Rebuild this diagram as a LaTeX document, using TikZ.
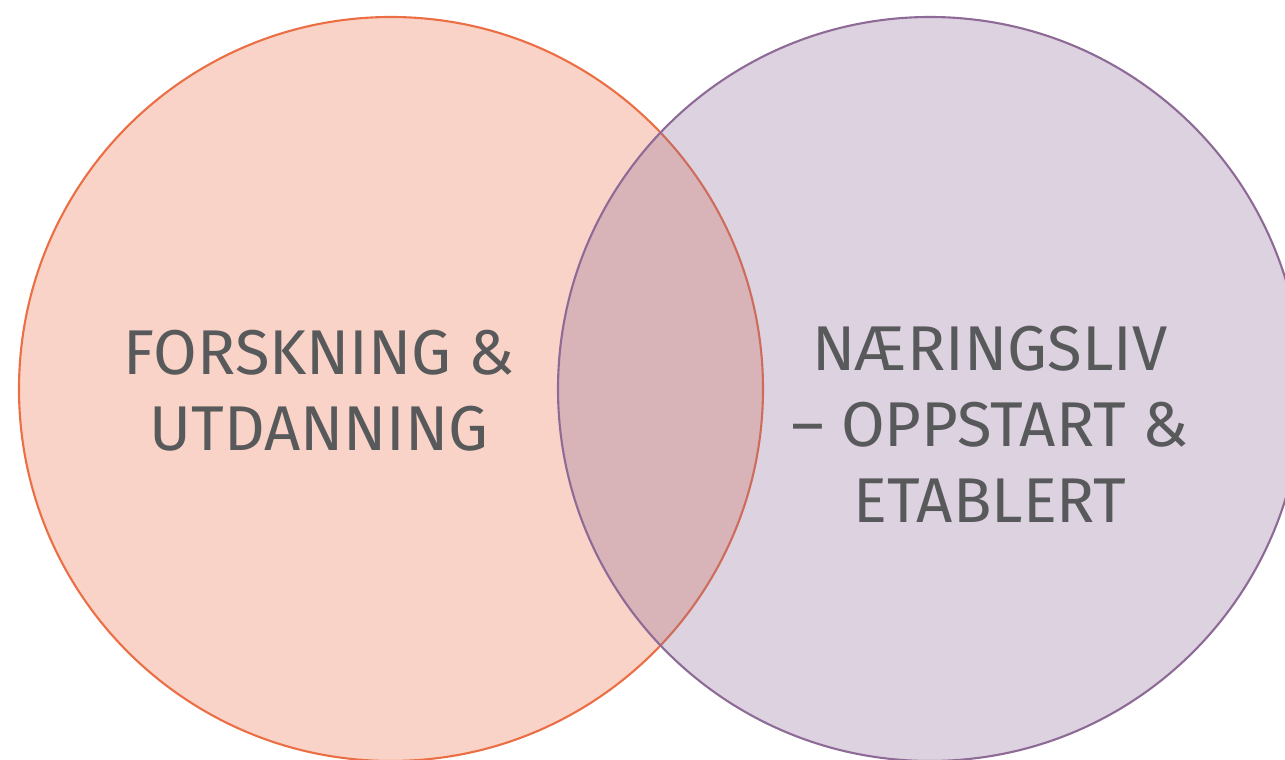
\documentclass[tikz,border=0pt]{standalone}
\usepackage{fontspec}
\setmainfont{Fira Sans}
\usetikzlibrary{positioning}
\definecolor{forsk}{HTML}{EB6E44}
\definecolor{naer}{HTML}{8E6A96}
\definecolor{tekst}{HTML}{58595B}
\tikzset{
  sirkel/.style={draw=#1, fill=#1, fill opacity=0.3, line width=0.6pt},
  etikett/.style={text=tekst, align=center, font=\fontsize{18}{21.6}\selectfont}
}

\begin{document}
\begin{tikzpicture}
\useasboundingbox (0,0) rectangle (12.85,7.59);
\clip (0,0) rectangle (12.85,7.59);
\coordinate (F) at (3.91,3.70);
\coordinate (N) at (9.30,3.70);
\draw[sirkel=forsk] (F) circle (3.72cm);
\draw[sirkel=naer] (N) circle (3.72cm);
\node[etikett] (forskning) at (3.19,3.685) {FORSKNING \&\\UTDANNING};
\node[etikett] (naeringsliv) at (9.90,3.35) {NÆRINGSLIV\\– OPPSTART \&\\ETABLERT};
\end{tikzpicture}
\end{document}
